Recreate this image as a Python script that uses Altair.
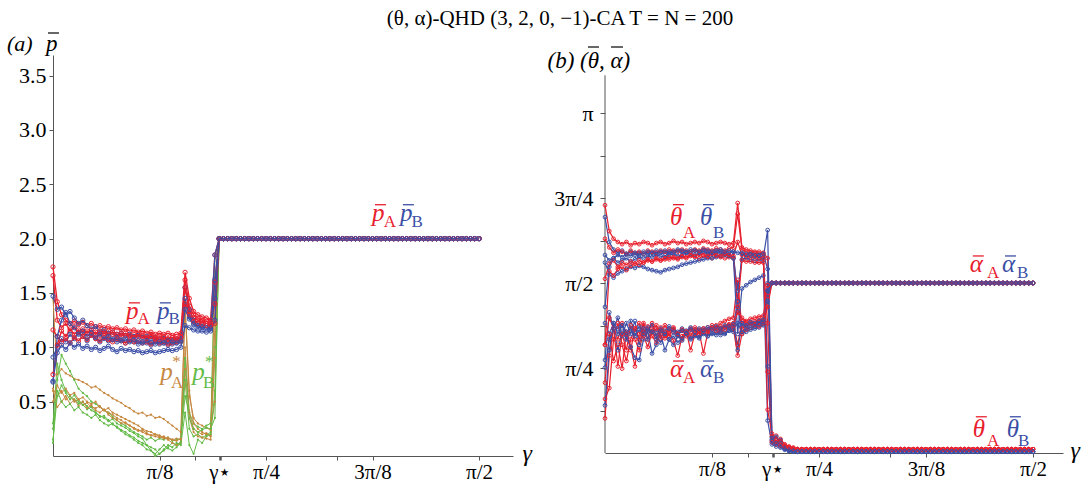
import math
import altair as alt
import pandas as pd

PI = math.pi
HALF_PI = PI / 2
GAMMA_STAR = 0.615
GAMMA = [i * PI / 200 for i in range(101)]  # gamma grid, step pi/200 (index 0..100)

RED, BLUE, ORANGE, GREEN = "#e8202e", "#3b4fa6", "#c6883f", "#63bb47"
AXIS_COLOR = "#555555"
FONT = "Liberation Serif, Times New Roman, Times, serif"

TITLE = "(θ, α)-QHD (3, 2, 0, −1)-CA T = N = 200"

# ---------------- left panel: mean payoffs (gamma index 0..38, before gamma*) ----------------
PBAR_A_RUNS = [
    [1.74, 1.42, 1.30, 1.25, 1.22, 1.24, 1.21, 1.23, 1.20, 1.22,
     1.19, 1.20, 1.18, 1.19, 1.17, 1.18, 1.16, 1.17, 1.15, 1.16,
     1.14, 1.15, 1.13, 1.14, 1.12, 1.13, 1.12, 1.13, 1.11, 1.12,
     1.13, 1.69, 1.45, 1.33, 1.30, 1.28, 1.27, 1.25, 1.85],
    [1.66, 1.25, 1.18, 1.22, 1.15, 1.19, 1.14, 1.17, 1.13, 1.16,
     1.12, 1.15, 1.13, 1.11, 1.14, 1.12, 1.10, 1.13, 1.11, 1.09,
     1.12, 1.10, 1.08, 1.11, 1.09, 1.07, 1.10, 1.08, 1.09, 1.07,
     1.10, 1.62, 1.38, 1.30, 1.27, 1.25, 1.24, 1.23, 1.60],
    [1.16, 1.10, 1.05, 1.08, 1.04, 1.09, 1.06, 1.10, 1.07, 1.11,
     1.08, 1.06, 1.09, 1.07, 1.05, 1.08, 1.06, 1.04, 1.07, 1.05,
     1.06, 1.04, 1.05, 1.03, 1.06, 1.04, 1.05, 1.03, 1.04, 1.05,
     1.06, 1.40, 1.30, 1.24, 1.22, 1.21, 1.20, 1.20, 1.22],
    [0.75, 1.02, 1.15, 1.10, 1.17, 1.12, 1.16, 1.13, 1.15, 1.12,
     1.14, 1.11, 1.13, 1.15, 1.12, 1.10, 1.13, 1.11, 1.09, 1.12,
     1.10, 1.11, 1.09, 1.10, 1.08, 1.10, 1.09, 1.07, 1.09, 1.08,
     1.09, 1.55, 1.33, 1.27, 1.25, 1.24, 1.22, 1.21, 1.40],
]
PBAR_B_RUNS = [
    [1.47, 1.35, 1.37, 1.30, 1.33, 1.27, 1.22, 1.25, 1.20, 1.17,
     1.19, 1.15, 1.16, 1.13, 1.14, 1.12, 1.13, 1.11, 1.12, 1.10,
     1.11, 1.09, 1.10, 1.08, 1.09, 1.07, 1.08, 1.07, 1.06, 1.07,
     1.08, 1.55, 1.35, 1.25, 1.22, 1.21, 1.20, 1.20, 1.85],
    [0.91, 1.00, 1.08, 1.05, 1.12, 1.08, 1.13, 1.10, 1.06, 1.11,
     1.08, 1.05, 1.09, 1.06, 1.08, 1.05, 1.07, 1.04, 1.06, 1.05,
     1.03, 1.05, 1.04, 1.02, 1.05, 1.03, 1.04, 1.02, 1.03, 1.04,
     1.05, 1.45, 1.28, 1.22, 1.20, 1.19, 1.18, 1.18, 1.62],
    [0.69, 0.95, 1.02, 0.98, 1.04, 1.00, 1.03, 0.99, 1.01, 0.98,
     1.00, 0.97, 0.99, 1.01, 0.98, 0.96, 0.99, 0.97, 0.98, 0.96,
     0.97, 0.95, 0.96, 0.97, 0.95, 0.96, 0.97, 0.98, 0.97, 0.98,
     1.00, 1.20, 1.18, 1.16, 1.15, 1.15, 1.14, 1.15, 1.25],
    [0.68, 1.10, 1.25, 1.32, 1.22, 1.18, 1.12, 1.15, 1.10, 1.13,
     1.09, 1.12, 1.08, 1.10, 1.07, 1.09, 1.06, 1.08, 1.05, 1.07,
     1.06, 1.04, 1.06, 1.05, 1.03, 1.05, 1.04, 1.06, 1.05, 1.04,
     1.06, 1.35, 1.26, 1.21, 1.19, 1.18, 1.18, 1.17, 1.45],
]
PSTAR_A_RUNS = [
    [1.45, 0.75, 0.80, 0.76, 0.74, 0.71, 0.70, 0.68, 0.66, 0.63,
     0.64, 0.61, 0.58, 0.56, 0.53, 0.51, 0.49, 0.46, 0.44, 0.41,
     0.39, 0.40, 0.37, 0.38, 0.35, 0.36, 0.34, 0.31, 0.28, 0.25,
     0.22, 1.35, 0.55, 0.35, 0.30, 0.28, 0.26, 0.24, 0.50],
    [0.62, 0.55, 0.60, 0.52, 0.55, 0.50, 0.52, 0.47, 0.49, 0.45,
     0.44, 0.46, 0.42, 0.40, 0.38, 0.35, 0.33, 0.30, 0.28, 0.26,
     0.24, 0.22, 0.20, 0.19, 0.18, 0.17, 0.18, 0.16, 0.15, 0.16,
     0.15, 1.00, 0.40, 0.25, 0.22, 0.20, 0.21, 0.19, 1.20],
    [0.50, 0.65, 0.58, 0.62, 0.56, 0.58, 0.52, 0.54, 0.50, 0.48,
     0.50, 0.45, 0.42, 0.44, 0.40, 0.38, 0.36, 0.34, 0.32, 0.30,
     0.28, 0.25, 0.23, 0.22, 0.20, 0.19, 0.17, 0.15, 0.12, 0.10,
     0.12, 1.40, 0.60, 0.30, 0.25, 0.22, 0.20, 0.18, 0.90],
    [0.60, 0.45, 0.50, 0.55, 0.48, 0.52, 0.46, 0.50, 0.44, 0.47,
     0.42, 0.40, 0.43, 0.38, 0.35, 0.33, 0.30, 0.31, 0.28, 0.25,
     0.23, 0.24, 0.21, 0.19, 0.20, 0.18, 0.16, 0.17, 0.15, 0.14,
     0.16, 0.80, 0.35, 0.22, 0.18, 0.17, 0.16, 0.15, 1.60],
]
PSTAR_B_RUNS = [
    [0.12, 0.70, 0.93, 0.85, 0.78, 0.70, 0.62, 0.58, 0.55, 0.50,
     0.48, 0.45, 0.42, 0.40, 0.36, 0.33, 0.30, 0.28, 0.25, 0.22,
     0.20, 0.18, 0.15, 0.17, 0.14, 0.16, 0.15, 0.17, 0.14, 0.15,
     0.16, 0.55, 0.40, 0.30, 0.27, 0.25, 0.28, 0.30, 1.00],
    [0.30, 0.85, 0.70, 0.60, 0.55, 0.52, 0.48, 0.50, 0.46, 0.42,
     0.40, 0.36, 0.37, 0.33, 0.29, 0.27, 0.24, 0.22, 0.19, 0.17,
     0.14, 0.12, 0.10, 0.08, 0.06, 0.02, 0.05, 0.08, 0.12, 0.10,
     0.13, 0.70, 0.25, 0.18, 0.20, 0.17, 0.19, 0.22, 1.82],
    [0.15, 0.55, 0.65, 0.58, 0.52, 0.56, 0.50, 0.47, 0.43, 0.45,
     0.40, 0.37, 0.35, 0.32, 0.34, 0.30, 0.28, 0.26, 0.23, 0.21,
     0.18, 0.16, 0.10, 0.05, 0.00, 0.02, 0.06, 0.10, 0.08, 0.12,
     0.10, 0.40, 0.10, 0.02, 0.15, 0.12, 0.18, 0.20, 0.60],
    [0.25, 0.60, 0.50, 0.45, 0.48, 0.42, 0.45, 0.40, 0.38, 0.35,
     0.38, 0.33, 0.30, 0.28, 0.30, 0.26, 0.23, 0.20, 0.18, 0.15,
     0.12, 0.10, 0.06, 0.05, 0.02, 0.06, 0.10, 0.07, 0.05, 0.08,
     0.12, 0.90, 0.35, 0.25, 0.22, 0.24, 0.26, 0.25, 0.35],
]
PBAR_AFTER = 2.0          # value read for every gamma >= gamma*
PSTAR_AFTER = [2.0]

# ---------------- right panel: mean angles ----------------
THETA_A_RUNS = [
    [2.29, 2.05, 1.98, 1.95, 1.93, 1.95, 1.92, 1.94, 1.93, 1.95,
     1.94, 1.92, 1.94, 1.95, 1.93, 1.94, 1.96, 1.94, 1.95, 1.93,
     1.94, 1.95, 1.94, 1.96, 1.95, 1.93, 1.94, 1.95, 1.94, 1.93,
     1.94, 2.31, 1.90, 1.88, 1.87, 1.86, 1.86, 1.85, 1.80],
    [1.98, 1.90, 1.85, 1.88, 1.86, 1.84, 1.87, 1.85, 1.86, 1.84,
     1.87, 1.86, 1.85, 1.87, 1.86, 1.88, 1.87, 1.86, 1.88, 1.87,
     1.86, 1.88, 1.87, 1.89, 1.88, 1.87, 1.89, 1.88, 1.87, 1.89,
     1.90, 2.21, 1.88, 1.86, 1.85, 1.85, 1.84, 1.84, 0.75],
    [1.61, 1.75, 1.78, 1.72, 1.76, 1.74, 1.77, 1.75, 1.78, 1.76,
     1.79, 1.77, 1.80, 1.78, 1.79, 1.81, 1.80, 1.79, 1.81, 1.80,
     1.82, 1.81, 1.80, 1.82, 1.81, 1.80, 1.82, 1.81, 1.80, 1.81,
     1.80, 1.35, 1.78, 1.77, 1.77, 1.76, 1.76, 1.76, 1.20],
    [1.00, 1.68, 1.64, 1.70, 1.72, 1.69, 1.73, 1.75, 1.74, 1.76,
     1.78, 1.77, 1.79, 1.78, 1.80, 1.79, 1.81, 1.80, 1.82, 1.81,
     1.83, 1.82, 1.84, 1.83, 1.82, 1.84, 1.83, 1.82, 1.84, 1.83,
     1.82, 1.95, 1.83, 1.82, 1.81, 1.81, 1.80, 1.80, 0.40],
]
THETA_B_RUNS = [
    [2.18, 1.95, 1.88, 1.85, 1.87, 1.84, 1.86, 1.83, 1.85, 1.86,
     1.84, 1.85, 1.87, 1.85, 1.84, 1.86, 1.85, 1.87, 1.86, 1.85,
     1.86, 1.87, 1.85, 1.86, 1.84, 1.85, 1.86, 1.85, 1.84, 1.85,
     1.86, 1.40, 1.84, 1.83, 1.83, 1.82, 1.82, 1.81, 2.06],
    [1.83, 1.78, 1.80, 1.76, 1.78, 1.80, 1.77, 1.79, 1.81, 1.80,
     1.82, 1.81, 1.83, 1.82, 1.81, 1.83, 1.84, 1.82, 1.83, 1.85,
     1.84, 1.83, 1.84, 1.86, 1.85, 1.84, 1.85, 1.86, 1.84, 1.83,
     1.80, 1.50, 1.79, 1.80, 1.79, 1.78, 1.79, 1.78, 0.80],
    [1.76, 1.65, 1.62, 1.66, 1.68, 1.70, 1.72, 1.71, 1.73, 1.72,
     1.70, 1.69, 1.68, 1.67, 1.69, 1.70, 1.71, 1.72, 1.74, 1.75,
     1.76, 1.77, 1.78, 1.79, 1.80, 1.80, 1.81, 1.82, 1.83, 1.82,
     1.80, 1.10, 1.52, 1.55, 1.58, 1.60, 1.62, 1.64, 0.30],
    [1.35, 1.72, 1.80, 1.83, 1.81, 1.84, 1.82, 1.85, 1.83, 1.84,
     1.86, 1.85, 1.84, 1.86, 1.87, 1.85, 1.86, 1.88, 1.87, 1.86,
     1.88, 1.87, 1.86, 1.88, 1.87, 1.86, 1.87, 1.88, 1.86, 1.87,
     1.86, 1.85, 1.85, 1.84, 1.84, 1.83, 1.83, 1.84, 1.70],
]
ALPHA_A_RUNS = [
    [0.32, 0.90, 1.15, 1.05, 1.20, 1.10, 0.95, 1.15, 1.05, 1.18,
     1.12, 1.20, 1.08, 1.16, 1.10, 1.14, 1.12, 1.09, 1.13, 1.11,
     1.15, 1.12, 1.10, 1.14, 1.13, 1.16, 1.15, 1.17, 1.16, 1.18,
     1.20, 1.00, 1.22, 1.20, 1.21, 1.22, 1.23, 1.24, 1.45],
    [0.65, 1.10, 0.85, 1.00, 0.78, 1.12, 0.98, 0.80, 1.10, 1.20,
     1.05, 1.15, 1.18, 1.06, 1.12, 1.08, 1.16, 1.10, 1.05, 1.12,
     1.08, 1.14, 1.10, 1.15, 1.12, 1.18, 1.16, 1.20, 1.22, 1.24,
     1.25, 1.60, 1.15, 1.18, 1.20, 1.19, 1.21, 1.22, 1.55],
    [1.00, 1.25, 1.15, 0.80, 1.10, 0.95, 1.18, 1.05, 0.95, 1.12,
     1.17, 1.08, 1.02, 1.14, 1.06, 1.10, 1.04, 0.90, 1.08, 1.12,
     0.95, 1.10, 1.12, 0.92, 1.11, 1.15, 1.13, 1.12, 1.14, 1.16,
     1.15, 0.90, 1.10, 1.14, 1.16, 1.18, 1.17, 1.20, 1.35],
    [0.50, 0.60, 1.05, 1.20, 1.00, 0.85, 1.05, 1.15, 1.20, 1.08,
     0.98, 1.12, 1.15, 1.10, 1.18, 1.12, 1.15, 1.10, 1.14, 1.08,
     1.12, 1.16, 1.14, 1.12, 1.16, 1.14, 1.18, 1.15, 1.17, 1.19,
     1.18, 1.30, 1.25, 1.22, 1.24, 1.25, 1.26, 1.27, 1.55],
]
ALPHA_B_RUNS = [
    [1.20, 1.10, 1.20, 1.15, 1.18, 1.05, 1.22, 1.12, 1.17, 1.10,
     1.14, 1.18, 1.12, 1.15, 1.13, 1.17, 1.14, 1.12, 1.15, 1.13,
     1.16, 1.14, 1.12, 1.15, 1.14, 1.16, 1.15, 1.14, 1.16, 1.17,
     1.18, 1.40, 1.18, 1.17, 1.19, 1.18, 1.20, 1.19, 1.50],
    [0.86, 1.30, 1.15, 1.25, 1.08, 1.20, 1.10, 1.22, 1.00, 1.15,
     1.05, 1.12, 1.08, 1.02, 1.10, 1.05, 1.00, 1.08, 1.04, 1.10,
     1.06, 1.09, 1.07, 1.11, 1.08, 1.10, 1.12, 1.09, 1.11, 1.13,
     1.12, 1.35, 1.10, 1.12, 1.14, 1.15, 1.16, 1.18, 1.40],
    [0.79, 1.05, 1.15, 0.95, 1.12, 1.08, 0.98, 0.88, 0.86, 1.05,
     1.12, 0.92, 1.00, 1.10, 0.95, 1.05, 1.08, 1.02, 1.06, 1.10,
     1.05, 1.08, 1.06, 1.10, 1.08, 1.11, 1.09, 1.12, 1.10, 1.13,
     1.14, 1.20, 1.12, 1.15, 1.16, 1.17, 1.19, 1.21, 1.57],
    [0.44, 0.95, 1.20, 1.10, 1.18, 1.12, 1.15, 1.08, 1.14, 1.10,
     1.16, 1.12, 1.05, 1.13, 1.10, 1.15, 1.12, 1.09, 1.13, 1.11,
     1.14, 1.12, 1.15, 1.13, 1.16, 1.14, 1.17, 1.15, 1.18, 1.16,
     1.19, 0.95, 1.20, 1.18, 1.21, 1.20, 1.22, 1.23, 1.50],
]
# just after gamma*: short noisy start, then a flat level
THETA_A_AFTER_HEADS = [[0.15, 0.10, 0.13, 0.08, 0.06, 0.05], [0.12, 0.16, 0.09, 0.07, 0.05, 0.04],
                       [0.10, 0.08, 0.11, 0.06, 0.05, 0.04], [0.18, 0.12, 0.07, 0.06, 0.05, 0.04]]
THETA_B_AFTER_HEADS = [[0.14, 0.08, 0.12, 0.05, 0.03, 0.02], [0.10, 0.15, 0.06, 0.04, 0.02, 0.015],
                       [0.08, 0.06, 0.09, 0.04, 0.02, 0.015], [0.12, 0.09, 0.05, 0.03, 0.02, 0.015]]
THETA_A_LEVEL = 0.035
THETA_B_LEVEL = 0.012
ALPHA_AFTER = HALF_PI

X_TICKS = [PI / 8, PI / 6, GAMMA_STAR, PI / 4, PI / 3, 3 * PI / 8, PI / 2]
X_TICK_LABELS = ["π/8", "", "γ⋆", "π/4", "", "3π/8", "π/2"]
LEFT_Y_TICKS = [0.5, 1.0, 1.5, 2.0, 2.5, 3.0, 3.5]
RIGHT_Y_TICKS = [k * PI / 8 for k in range(1, 9)]
RIGHT_Y_LABELS = ["", "π/4", "", "π/2", "", "3π/4", "", "π"]

N_BEFORE = 39
N_AFTER = len(GAMMA) - N_BEFORE


def label_expr(values, labels):
    expr = "''"
    for val, lab in reversed(list(zip(values, labels))):
        expr = f"abs(datum.value - {val:.6f}) < 0.0001 ? '{lab}' : {expr}"
    return expr


def rows(run_groups):
    out = []
    for k in range(len(run_groups[0][1])):
        for name, runs, tails, color in run_groups:
            vals = runs[k] + tails[k]
            for i, v in enumerate(vals):
                out.append({"g": GAMMA[i], "v": v, "series": f"{name}{k}", "col": color})
    return pd.DataFrame(out)


for runs in [PBAR_A_RUNS, PBAR_B_RUNS, PSTAR_A_RUNS, PSTAR_B_RUNS,
             THETA_A_RUNS, THETA_B_RUNS, ALPHA_A_RUNS, ALPHA_B_RUNS]:
    for r in runs:
        assert len(r) == N_BEFORE, len(r)

pbar_tail = [[PBAR_AFTER] * N_AFTER for _ in range(4)]
pstar_tail = [PSTAR_AFTER for _ in range(4)]
ta_tail = [h + [THETA_A_LEVEL] * (N_AFTER - len(h)) for h in THETA_A_AFTER_HEADS]
tb_tail = [h + [THETA_B_LEVEL] * (N_AFTER - len(h)) for h in THETA_B_AFTER_HEADS]
al_tail = [[ALPHA_AFTER] * N_AFTER for _ in range(4)]

df_pstar = rows([("pa", PSTAR_A_RUNS, pstar_tail, ORANGE), ("pb", PSTAR_B_RUNS, pstar_tail, GREEN)])
df_pbar = rows([("Pa", PBAR_A_RUNS, pbar_tail, RED), ("Pb", PBAR_B_RUNS, pbar_tail, BLUE)])
df_ang = rows([("aa", ALPHA_A_RUNS, al_tail, RED), ("ab", ALPHA_B_RUNS, al_tail, BLUE),
               ("ta", THETA_A_RUNS, ta_tail, RED), ("tb", THETA_B_RUNS, tb_tail, BLUE)])

# in-plot labels: main symbol (g, v in data units), bar = overline kind
LEFT_SYMBOLS = pd.DataFrame([
    {"g": 0.269, "v": 1.262, "text": "p", "col": RED, "bar": "low"},
    {"g": 0.383, "v": 1.262, "text": "p", "col": BLUE, "bar": "low"},
    {"g": 1.176, "v": 2.165, "text": "p", "col": RED, "bar": "low"},
    {"g": 1.279, "v": 2.165, "text": "p", "col": BLUE, "bar": "low"},
    {"g": 0.395, "v": 0.700, "text": "p", "col": ORANGE, "bar": "none"},
    {"g": 0.513, "v": 0.700, "text": "p", "col": GREEN, "bar": "none"},
])
LEFT_SUBS = pd.DataFrame([
    {"g": 0.312, "v": 1.215, "text": "A", "col": RED},
    {"g": 0.426, "v": 1.215, "text": "B", "col": BLUE},
    {"g": 1.219, "v": 2.109, "text": "A", "col": RED},
    {"g": 1.322, "v": 2.109, "text": "B", "col": BLUE},
    {"g": 0.440, "v": 0.815, "text": "*", "col": ORANGE},
    {"g": 0.435, "v": 0.630, "text": "A", "col": ORANGE},
    {"g": 0.560, "v": 0.815, "text": "*", "col": GREEN},
    {"g": 0.553, "v": 0.630, "text": "B", "col": GREEN},
])
RIGHT_SYMBOLS = pd.DataFrame([
    {"g": 0.2385, "v": 2.110, "text": "θ", "col": RED, "bar": "high"},
    {"g": 0.349, "v": 2.110, "text": "θ", "col": BLUE, "bar": "high"},
    {"g": 1.339, "v": 1.673, "text": "α", "col": RED, "bar": "low"},
    {"g": 1.457, "v": 1.673, "text": "α", "col": BLUE, "bar": "low"},
    {"g": 0.2385, "v": 0.702, "text": "α", "col": RED, "bar": "low"},
    {"g": 0.349, "v": 0.702, "text": "α", "col": BLUE, "bar": "low"},
    {"g": 1.350, "v": 0.150, "text": "θ", "col": RED, "bar": "high"},
    {"g": 1.475, "v": 0.150, "text": "θ", "col": BLUE, "bar": "high"},
])
RIGHT_SUBS = pd.DataFrame([
    {"g": 0.286, "v": 1.990, "text": "A", "col": RED},
    {"g": 0.396, "v": 1.990, "text": "B", "col": BLUE},
    {"g": 1.402, "v": 1.617, "text": "A", "col": RED},
    {"g": 1.512, "v": 1.617, "text": "B", "col": BLUE},
    {"g": 0.286, "v": 0.647, "text": "A", "col": RED},
    {"g": 0.396, "v": 0.647, "text": "B", "col": BLUE},
    {"g": 1.402, "v": 0.062, "text": "A", "col": RED},
    {"g": 1.516, "v": 0.062, "text": "B", "col": BLUE},
])
# overline bar geometry (pixels, relative to each symbol's anchor)
BAR_OFFSETS = {"low": (3, 14, -16), "high": (3, 14, -20)}

tick_width = {"condition": {"test": f"abs(datum.value - {GAMMA_STAR}) < 0.0001", "value": 2.5}, "value": 1}


def x_axis(title_x):
    return alt.Axis(values=X_TICKS, labelExpr=label_expr(X_TICKS, X_TICK_LABELS), grid=False,
                    domainColor=AXIS_COLOR, tickColor=AXIS_COLOR, tickSize=4, tickWidth=tick_width,
                    labelFont=FONT, labelFontSize=21, labelColor="black", labelPadding=1,
                    labelFlush=False, labelOverlap=False,
                    title="γ", titleX=title_x, titleY=4, titleAlign="left", titleAnchor="start",
                    titleBaseline="alphabetic", titleFont=FONT, titleFontSize=24,
                    titleFontStyle="italic", titleFontWeight="normal", titleColor="black")


LX = alt.X("g:Q", scale=alt.Scale(domain=[0, 1.696], nice=False, zero=False), axis=x_axis(469))
LY = alt.Y("v:Q", scale=alt.Scale(domain=[0, 3.69], nice=False),
           axis=alt.Axis(values=LEFT_Y_TICKS, format=".1f", grid=False, domainColor=AXIS_COLOR,
                         tickColor=AXIS_COLOR, tickSize=4, labelFont=FONT, labelFontSize=22,
                         labelColor="black", labelPadding=3, labelFlush=False, title=None))

RX = alt.X("g:Q", scale=alt.Scale(domain=[0, 1.681], nice=False, zero=False), axis=x_axis(465))
RY = alt.Y("v:Q", scale=alt.Scale(domain=[0, 3.678], nice=False),
           axis=alt.Axis(values=RIGHT_Y_TICKS, labelExpr=label_expr(RIGHT_Y_TICKS, RIGHT_Y_LABELS),
                         grid=False, domain=False, tickColor=AXIS_COLOR, tickSize=5,
                         labelFont=FONT, labelFontSize=22, labelColor="black", labelPadding=7,
                         labelFlush=False, title=None))

COLOR = alt.Color("col:N", scale=None)

pstar_layer = alt.Chart(df_pstar).mark_line(
    strokeWidth=1, point=alt.OverlayMarkDef(filled=True, size=5)
).encode(x=LX, y=LY, color=COLOR, detail="series:N")

pbar_layer = alt.Chart(df_pbar).mark_line(
    strokeWidth=1.3, point=alt.OverlayMarkDef(filled=False, size=18, strokeWidth=1)
).encode(x=LX, y=LY, color=COLOR, detail="series:N")


def sym_layers(sym_df, sub_df, X, Y):
    out = [
        alt.Chart(sym_df).mark_text(font=FONT, fontStyle="italic", fontSize=25, align="left",
                                    baseline="alphabetic").encode(x=X, y=Y, text="text:N", color=COLOR),
        alt.Chart(sub_df).mark_text(font=FONT, fontSize=17, align="left",
                                    baseline="alphabetic").encode(x=X, y=Y, text="text:N", color=COLOR),
    ]
    for kind, (x0, x1, dy) in BAR_OFFSETS.items():
        part = sym_df[sym_df["bar"] == kind]
        if len(part):
            out.append(alt.Chart(part).mark_rule(strokeWidth=1.3, xOffset=x0, x2Offset=x1, yOffset=dy)
                       .encode(x=X, x2=alt.X2("g:Q"), y=Y, color=COLOR))
    return out


def px_text(text, x, y, size, italic=True, align="left"):
    return alt.Chart(pd.DataFrame({"t": [text]})).mark_text(
        font=FONT, fontSize=size, fontStyle="italic" if italic else "normal", align=align,
        baseline="alphabetic", color="black"
    ).encode(x=alt.value(x), y=alt.value(y), text="t:N")


def px_bar(x0, x1, y):
    return alt.Chart(pd.DataFrame({"t": [0]})).mark_rule(color="black", strokeWidth=1.2).encode(
        x=alt.value(x0), x2=alt.value(x1), y=alt.value(y))


left_texts = [
    px_text(TITLE, 507, -30, 21, italic=False, align="center"),
    px_text("(a)", -46, -4, 22),
    px_text("p", -7, -4, 23),
    px_bar(-5, 6, -22),
]
right_texts = [
    px_text("(b) (θ", -6, 13, 23, align="right"),
    px_bar(-17, -6, -8),
    px_text(", α)", -6, 13, 23),
    px_bar(6, 18, -8),
]

left = alt.layer(pstar_layer, pbar_layer, *sym_layers(LEFT_SYMBOLS, LEFT_SUBS, LX, LY),
                 *left_texts).properties(width=460, height=401)

axis_line = alt.Chart(pd.DataFrame({"g": [0.0], "v": [0.0], "v2": [3.49]})).mark_rule(
    color=AXIS_COLOR, strokeWidth=1).encode(x=RX, y=RY, y2="v2:Q")

ang_layer = alt.Chart(df_ang).mark_line(strokeWidth=1.2, point=alt.OverlayMarkDef(
    filled=False, size=14, strokeWidth=1)).encode(x=RX, y=RY, color=COLOR, detail="series:N")

right = alt.layer(axis_line, ang_layer, *sym_layers(RIGHT_SYMBOLS, RIGHT_SUBS, RX, RY),
                  *right_texts).properties(width=458, height=398)

chart = alt.hconcat(left, right, spacing=92, bounds="flush").properties(
    padding={"left": 7, "top": 8, "right": 5, "bottom": 5}, background="white"
).configure_view(stroke=None)

chart.save("out.html", embed_options={"renderer": "svg", "actions": False})
